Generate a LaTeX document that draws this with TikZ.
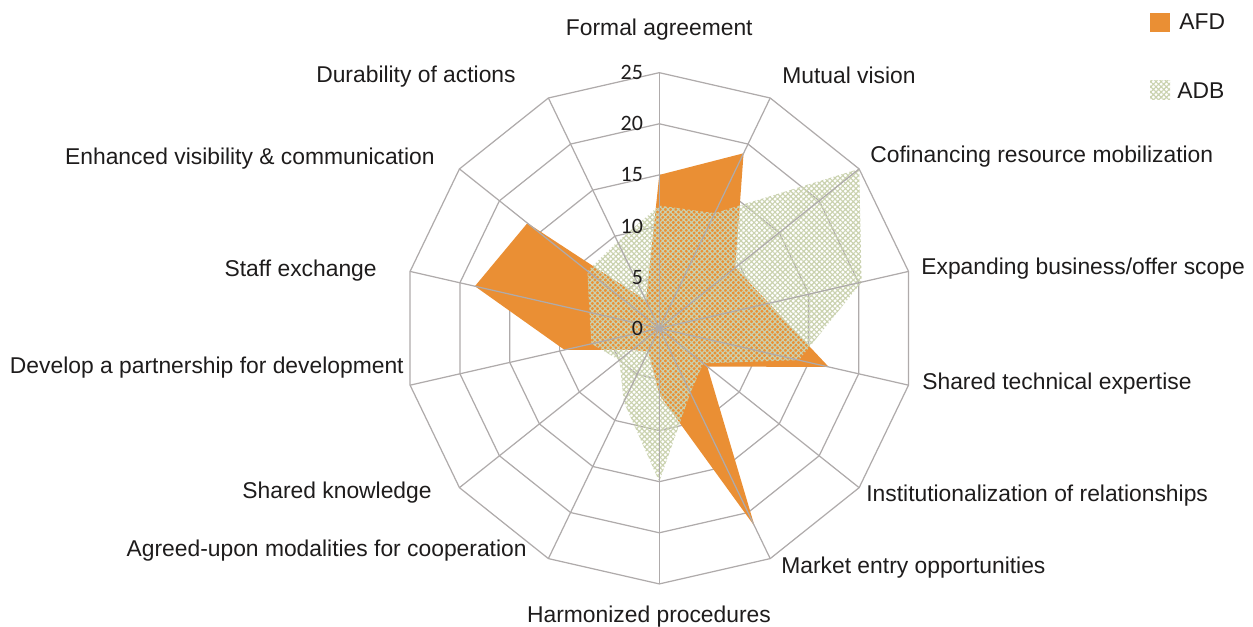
\documentclass[tikz,border=0pt]{standalone}
\usepackage{fontspec}
\setmainfont{Liberation Sans}
\newfontfamily\tickfont{Carlito}
\usetikzlibrary{patterns.meta}
\definecolor{afdorange}{RGB}{234,143,52}
\definecolor{adbgreen}{RGB}{202,210,175}
\definecolor{gridgray}{RGB}{175,171,171}
\definecolor{labelblack}{RGB}{30,28,28}
\def\rs{0.2045}

\begin{document}
\begin{tikzpicture}[
    gridline/.style={gridgray, line width=0.7pt},
    afdarea/.style={fill=afdorange},
    adbarea/.style={pattern={Hatch[angle=45,distance=2.1pt,line width=0.65pt]}, pattern color=adbgreen},
    catlabel/.style={inner sep=0pt, text=labelblack, font=\fontsize{13}{15}\selectfont},
    ticklabel/.style={inner sep=0pt, anchor=east, text=labelblack, font=\tickfont\fontsize{12.5}{14}\selectfont},
    keybox/.style={inner sep=0pt, minimum width=0.4cm, minimum height=0.39cm}
  ]
  \useasboundingbox (-13.186,-5.974) rectangle (11.874,6.566);
  \coordinate (c) at (0,0);
  \foreach \lev in {5,10,...,25}
    \draw[gridline] (90:\lev*\rs) \foreach \k in {1,...,13} { -- ({90-\k*360/14}:\lev*\rs) } -- cycle;
  \fill[afdarea] (90:15*\rs) \foreach \v [count=\k] in {19,9.5,11,17,6,21.5,6.5,2.5,3.4,9.5,18.5,16.5,3} { -- ({90-\k*360/14}:\v*\rs) } -- cycle;
  \fill[adbarea] (90:12*\rs) \foreach \v [count=\k] in {12.5,25,20.3,14,5.5,7,15,8,5,6.8,7,9,9.4} { -- ({90-\k*360/14}:\v*\rs) } -- cycle;
  \foreach \k in {0,...,13}
    \draw[gridline] (c) -- ({90-\k*360/14}:25*\rs);
  \foreach \t in {0,5,...,25}
    \node[ticklabel] (tick\t) at (-0.32,\t*\rs) {\t};

  \node[catlabel, anchor=base] (formal) at (0,5.861) {Formal agreement};
  \node[catlabel, anchor=base west] (mutual) at (2.454,4.901) {Mutual vision};
  \node[catlabel, anchor=base west] (cofin) at (4.214,3.321) {Cofinancing resource mobilization};
  \node[catlabel, anchor=base west] (expand) at (5.234,1.081) {Expanding business/offer scope};
  \node[catlabel, anchor=base west] (techexp) at (5.254,-1.219) {Shared technical expertise};
  \node[catlabel, anchor=base west] (instit) at (4.134,-3.459) {Institutionalization of relationships};
  \node[catlabel, anchor=base west] (market) at (2.434,-4.899) {Market entry opportunities};
  \node[catlabel, anchor=base] (harmon) at (-0.206,-5.879) {Harmonized procedures};
  \node[catlabel, anchor=base east] (agreed) at (-2.646,-4.559) {Agreed-upon modalities for cooperation};
  \node[catlabel, anchor=base east] (knowl) at (-4.546,-3.399) {Shared knowledge};
  \node[catlabel, anchor=base east] (develop) at (-5.106,-0.899) {Develop a partnership for development};
  \node[catlabel, anchor=base east] (staff) at (-5.646,1.041) {Staff exchange};
  \node[catlabel, anchor=base east] (visib) at (-4.486,3.281) {Enhanced visibility \& communication};
  \node[catlabel, anchor=base east] (durab) at (-2.866,4.921) {Durability of actions};

  \node[keybox, fill=afdorange] (afdkey) at (10.014,6.119) {};
  \node[catlabel, anchor=base west] (afdname) at (10.394,5.981) {AFD};
  \node[keybox, adbarea] (adbkey) at (10.014,4.766) {};
  \node[catlabel, anchor=base west] (adbname) at (10.354,4.601) {ADB};
\end{tikzpicture}
\end{document}
